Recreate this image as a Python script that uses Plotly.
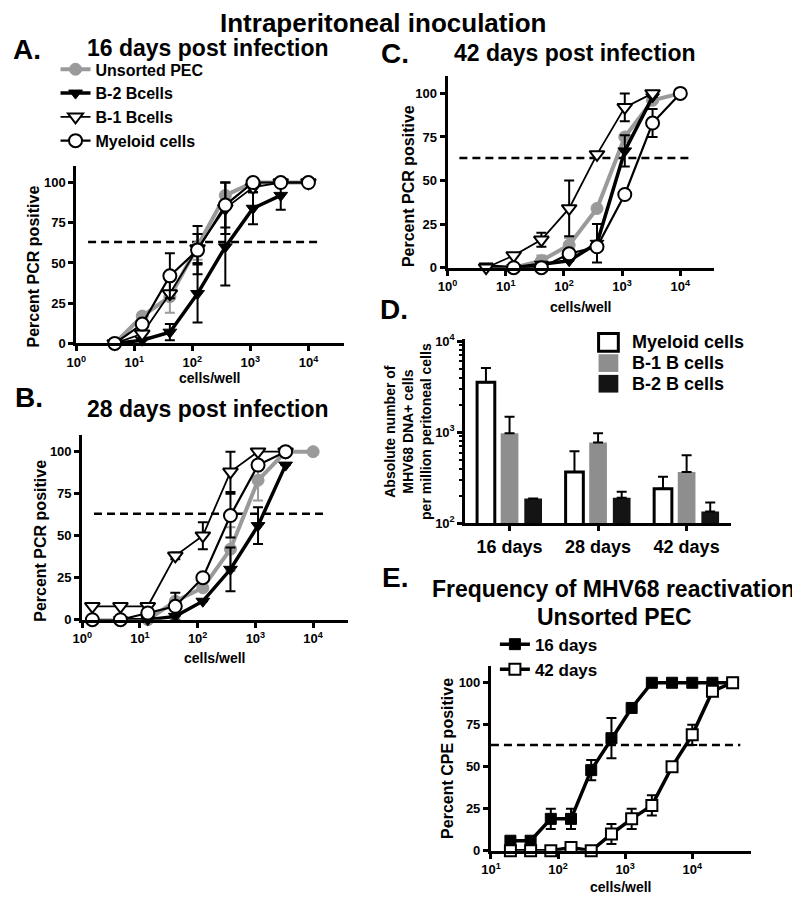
import plotly.graph_objects as go

FONT = "Liberation Sans, Arial, sans-serif"
# page body has an 8px margin; the figure fills the rest of the 800x906 window
OFF = 8
W, H = 800 - OFF, 906 - OFF

# ---------------- data ----------------
series_names = ["Unsorted PEC", "B-2 Bcells", "B-1 Bcells", "Myeloid cells"]

# Panel A : 16 days post infection
a_x = [4.6, 13.7, 41, 123, 370, 1111, 3333, 10000]
a_b2_x = [4.6, 13.7, 41, 123, 370, 1111, 3333]
a_unsorted = [0, 17, 29, 60, 92, 100, 100, 100]
a_unsorted_err = [0, 0, 10, 8, 8, 0, 0, 0]
a_b2 = [0, 2, 7, 31, 60, 84, 92]
a_b2_err = [0, 0, 5, 18, 24, 10, 9]
a_b1 = [0, 6, 31, 59, 84, 97, 100, 100]
a_b1_err = [0, 0, 0, 9, 16, 3, 0, 0]
a_mye = [0, 12, 42, 58, 86, 100, 100, 100]
a_mye_err = [0, 0, 14, 15, 14, 0, 0, 0]

# Panel B : 28 days post infection
b_unsorted_x = [13.7, 41, 123, 370, 1111, 3333, 10000]
b_unsorted = [0, 11, 19, 42, 83, 100, 100]
b_unsorted_err = [0, 0, 0, 13, 12, 0, 0]
b_b2_x = [4.6, 13.7, 41, 123, 370, 1111, 3333]
b_b2 = [0, 0, 2, 11, 30, 56, 92]
b_b2_err = [0, 0, 0, 0, 13, 11, 0]
b_b1_x = [1.5, 4.6, 13.7, 41, 123, 370, 1111, 3333]
b_b1 = [8, 8, 8, 38, 50, 88, 100, 100]
b_b1_err = [0, 0, 0, 2, 8, 12, 0, 0]
b_mye_x = [1.5, 4.6, 13.7, 41, 123, 370, 1111, 3333]
b_mye = [0, 0, 4, 8, 25, 62, 92, 100]
b_mye_err = [0, 0, 0, 8, 0, 13, 0, 0]

# Panel C : 42 days post infection
c_unsorted_x = [13.7, 41, 123, 370, 1111, 3333, 10000]
c_unsorted = [0, 4, 13, 34, 75, 96, 100]
c_unsorted_err = [0, 3, 4, 0, 0, 0, 0]
c_b2_x = [4.6, 13.7, 41, 123, 370, 1111, 3333]
c_b2 = [1, 0, 2, 4, 14, 67, 98]
c_b2_err = [0, 0, 0, 0, 11, 9, 0]
c_b1_x = [4.6, 13.7, 41, 123, 370, 1111, 3333]
c_b1 = [0, 7, 16, 34, 65, 92, 100]
c_b1_err = [0, 0, 4, 16, 0, 8, 0]
c_mye_x = [13.7, 41, 123, 370, 1111, 3333, 10000]
c_mye = [0, 0, 8, 12, 42, 83, 100]
c_mye_err = [0, 0, 0, 0, 0, 8, 0]

# Panel D : absolute number of MHV68 DNA+ cells
d_categories = ["16 days", "28 days", "42 days"]
d_names = ["Myeloid cells", "B-1 B cells", "B-2 B cells"]
d_myeloid = [3550, 367, 240]
d_myeloid_top = [5100, 620, 325]
d_b1 = [980, 775, 367]
d_b1_top = [1480, 980, 560]
d_b2 = [187, 191, 135]
d_b2_top = [187, 222, 170]

# Panel E : frequency of reactivation
e_names = ["16 days", "42 days"]
e_x = [19.5, 39, 78, 156, 312, 625, 1250, 2500, 5000, 10000, 20000, 40000]
e_16 = [6, 6, 19, 19, 48, 67, 85, 100, 100, 100, 100, 100]
e_16_err = [0, 0, 6, 6, 6, 12, 0, 0, 0, 0, 0, 0]
e_42 = [0, 0, 0, 2, 0, 10, 19, 27, 50, 69, 95, 100]
e_42_err = [0, 0, 0, 0, 0, 6, 6, 6, 0, 6, 0, 0]

threshold = 63
thr_x_abc = [1.6, 16000]
thr_x_e = [10, 52000]

pow_vals = [1, 10, 100, 1000, 10000]
pow_text = ["10<sup>0</sup>", "10<sup>1</sup>", "10<sup>2</sup>", "10<sup>3</sup>", "10<sup>4</sup>"]
e_pow_vals = [10, 100, 1000, 10000]
e_pow_text = ["10<sup>1</sup>", "10<sup>2</sup>", "10<sup>3</sup>", "10<sup>4</sup>"]
d_pow_vals = [100, 1000, 10000]
d_pow_text = ["10<sup>2</sup>", "10<sup>3</sup>", "10<sup>4</sup>"]
d_minor_vals = [200, 300, 400, 500, 600, 700, 800, 900,
                2000, 3000, 4000, 5000, 6000, 7000, 8000, 9000]

# ---------------- styles ----------------
GRAY = "#9a9a9a"
styles = {
    "Unsorted PEC": dict(lc=GRAY, lw=4, sym="circle", mc=GRAY, ml=GRAY, mlw=1, ms=12, ec=GRAY),
    "B-2 Bcells": dict(lc="black", lw=3.5, sym="triangle-down", mc="black", ml="black", mlw=1, ms=12, ec="black"),
    "B-1 Bcells": dict(lc="black", lw=1.8, sym="triangle-down", mc="white", ml="black", mlw=2, ms=13, ec="black"),
    "Myeloid cells": dict(lc="black", lw=2.2, sym="circle", mc="white", ml="black", mlw=2, ms=13, ec="black"),
    "16 days": dict(lc="black", lw=3.5, sym="square", mc="black", ml="black", mlw=1, ms=11, ec="black"),
    "42 days": dict(lc="black", lw=3.5, sym="square", mc="white", ml="black", mlw=2, ms=11, ec="black"),
}

fig = go.Figure()


def add_threshold(xs, xa, ya):
    fig.add_trace(go.Scatter(x=xs, y=[threshold, threshold], mode="lines",
                             line=dict(color="black", width=2.5, dash="8px,5px"),
                             xaxis=xa, yaxis=ya, showlegend=False, hoverinfo="skip"))


def add_series(name, x, y, err, xa, ya, show=False, legend="legend"):
    s = styles[name]
    fig.add_trace(go.Scatter(
        x=x, y=y, name=name, mode="lines+markers",
        line=dict(color=s["lc"], width=s["lw"]),
        marker=dict(symbol=s["sym"], size=s["ms"], color=s["mc"],
                    line=dict(color=s["ml"], width=s["mlw"])),
        error_y=dict(type="data", array=err, visible=True, color=s["ec"],
                     thickness=2, width=5),
        xaxis=xa, yaxis=ya, showlegend=show, legend=legend, cliponaxis=False))


# Panel A
add_threshold(thr_x_abc, "x", "y")
add_series("Unsorted PEC", a_x, a_unsorted, a_unsorted_err, "x", "y", True)
add_series("B-2 Bcells", a_b2_x, a_b2, a_b2_err, "x", "y", True)
add_series("B-1 Bcells", a_x, a_b1, a_b1_err, "x", "y", True)
add_series("Myeloid cells", a_x, a_mye, a_mye_err, "x", "y", True)

# Panel B
add_threshold(thr_x_abc, "x2", "y2")
add_series("Unsorted PEC", b_unsorted_x, b_unsorted, b_unsorted_err, "x2", "y2")
add_series("B-2 Bcells", b_b2_x, b_b2, b_b2_err, "x2", "y2")
add_series("B-1 Bcells", b_b1_x, b_b1, b_b1_err, "x2", "y2")
add_series("Myeloid cells", b_mye_x, b_mye, b_mye_err, "x2", "y2")

# Panel C
add_threshold(thr_x_abc, "x3", "y3")
add_series("Unsorted PEC", c_unsorted_x, c_unsorted, c_unsorted_err, "x3", "y3")
add_series("B-2 Bcells", c_b2_x, c_b2, c_b2_err, "x3", "y3")
add_series("B-1 Bcells", c_b1_x, c_b1, c_b1_err, "x3", "y3")
add_series("Myeloid cells", c_mye_x, c_mye, c_mye_err, "x3", "y3")

# Panel D bars
bar_styles = [
    dict(color="white", line=dict(color="black", width=3)),
    dict(color="#8e8e8e", line=dict(color="#8e8e8e", width=0)),
    dict(color="#141414", line=dict(color="#141414", width=0)),
]
for nm, vals, tops, st in zip(d_names, [d_myeloid, d_b1, d_b2],
                              [d_myeloid_top, d_b1_top, d_b2_top], bar_styles):
    fig.add_trace(go.Bar(
        x=d_categories, y=vals, name=nm, marker=st,
        error_y=dict(type="data", symmetric=False,
                     array=[t - v for t, v in zip(tops, vals)],
                     arrayminus=[0] * len(vals), color="black", thickness=2, width=5),
        xaxis="x4", yaxis="y4", showlegend=False))

# Panel E
add_threshold(thr_x_e, "x5", "y5")
add_series("16 days", e_x, e_16, e_16_err, "x5", "y5", True, "legend3")
add_series("42 days", e_x, e_42, e_42_err, "x5", "y5", True, "legend3")


# ---------------- layout helpers (screen px -> paper) ----------------
def px(x):
    return (x - OFF) / W


def py(y):
    return 1 - (y - OFF) / H


def dx(a, b):
    return [px(a), px(b)]


def dy(top, bottom):
    return [py(bottom), py(top)]


tickfont = dict(family=FONT, size=13, color="black", weight="bold")
axis_common = dict(showline=True, linewidth=3, linecolor="black", ticks="outside",
                   ticklen=5, tickwidth=2.5, tickcolor="black", showgrid=False,
                   zeroline=False, tickfont=tickfont, mirror=False)


def xlog(domain, rng, anchor, vals, text):
    d = dict(axis_common)
    d.update(type="log", domain=domain, range=rng, anchor=anchor,
             tickmode="array", tickvals=vals, ticktext=text)
    return d


def ylin(domain, anchor):
    d = dict(axis_common)
    d.update(domain=domain, range=[0, 110], anchor=anchor, tickmode="array",
             tickvals=[0, 25, 50, 75, 100])
    return d


layout = dict(
    width=W, height=H, margin=dict(l=0, r=0, t=0, b=0),
    paper_bgcolor="white", plot_bgcolor="white",
    font=dict(family=FONT, color="black"),
    barmode="group", bargap=0.2, bargroupgap=0.25,
    xaxis=xlog(dx(67, 338), [0, 4.61], "y", pow_vals, pow_text),
    yaxis=ylin(dy(162, 342), "x"),
    xaxis2=xlog(dx(73, 342), [0, 4.6], "y2", pow_vals, pow_text),
    yaxis2=ylin(dy(435, 623), "x2"),
    xaxis3=xlog(dx(443, 713), [0, 4.58], "y3", pow_vals, pow_text),
    yaxis3=ylin(dy(70, 265), "x3"),
    xaxis5=xlog(dx(487, 750), [1, 4.87], "y5", e_pow_vals, e_pow_text),
    yaxis5=ylin(dy(670, 858), "x5"),
)
xa4 = dict(axis_common)
xa4.update(type="category", domain=dx(461, 730), range=[-0.5, 2.5], anchor="y4",
           tickfont=dict(family=FONT, size=18, color="black", weight="bold"))
ya4 = dict(axis_common)
ya4.update(type="log", domain=dy(338, 525), range=[2, 4.02], anchor="x4",
           tickmode="array", tickvals=d_pow_vals, ticktext=d_pow_text,
           minor=dict(ticks="outside", ticklen=3, tickwidth=1.5, tickcolor="black",
                      tickmode="array", tickvals=d_minor_vals))
layout["xaxis4"] = xa4
layout["yaxis4"] = ya4

layout["legend"] = dict(x=px(46), y=py(46), xanchor="left", yanchor="top",
                        font=dict(family=FONT, size=16, color="black", weight="bold"),
                        bgcolor="rgba(0,0,0,0)", tracegroupgap=0, itemwidth=30)
layout["legend3"] = dict(x=px(491), y=py(630), xanchor="left", yanchor="top",
                         font=dict(family=FONT, size=17, color="black", weight="bold"),
                         bgcolor="rgba(0,0,0,0)", tracegroupgap=0, itemwidth=30)

annotations = []


def ann(text, x, y, size, angle=0, xanchor="center"):
    annotations.append(dict(text=text, x=px(x), y=py(y), xref="paper", yref="paper",
                            showarrow=False, xanchor=xanchor, yanchor="middle",
                            textangle=angle,
                            font=dict(family=FONT, size=size, color="black", weight="bold")))


ann("Intraperitoneal inoculation", 378, 16, 26)
ann("A.", 17, 43, 28)
ann("16 days post infection", 200, 42, 23)
ann("B.", 19, 397, 28)
ann("28 days post infection", 200, 409, 23)
ann("C.", 390, 47, 28)
ann("42 days post infection", 572, 47, 23)
ann("D.", 389, 307, 28)
ann("E.", 390, 580, 28)
ann("Frequency of MHV68 reactivation", 611, 592, 23)
ann("Unsorted PEC", 612, 620, 23)

ann("Percent PCR positive", 24, 264, 16, -90)
ann("cells/well", 202, 377, 14)
ann("Percent PCR positive", 30, 543, 16, -90)
ann("cells/well", 207, 662, 14)
ann("Percent PCR positive", 403, 182, 16, -90)
ann("cells/well", 578, 305, 14)
ann("Absolute number of<br>MHV68 DNA+ cells<br>per million peritoneal cells", 403, 432, 14, -90)
ann("Percent CPE positive", 443, 764, 16, -90)
ann("cells/well", 618, 895, 14)

# D legend (manual boxes)
shapes = []
d_leg_fill = ["white", "#8e8e8e", "#141414"]
d_leg_line = ["black", "#8e8e8e", "#141414"]
for i, nm in enumerate(d_names):
    cy = 341 + 21 * i
    shapes.append(dict(type="rect", xref="paper", yref="paper",
                       x0=px(596), x1=px(616), y0=py(cy + 9), y1=py(cy - 9),
                       fillcolor=d_leg_fill[i], line=dict(color=d_leg_line[i], width=3 if i == 0 else 0)))
    ann(nm, 628, cy, 18, 0, "left")

layout["annotations"] = annotations
layout["shapes"] = shapes
fig.update_layout(**layout)
fig.write_html("out.html")
